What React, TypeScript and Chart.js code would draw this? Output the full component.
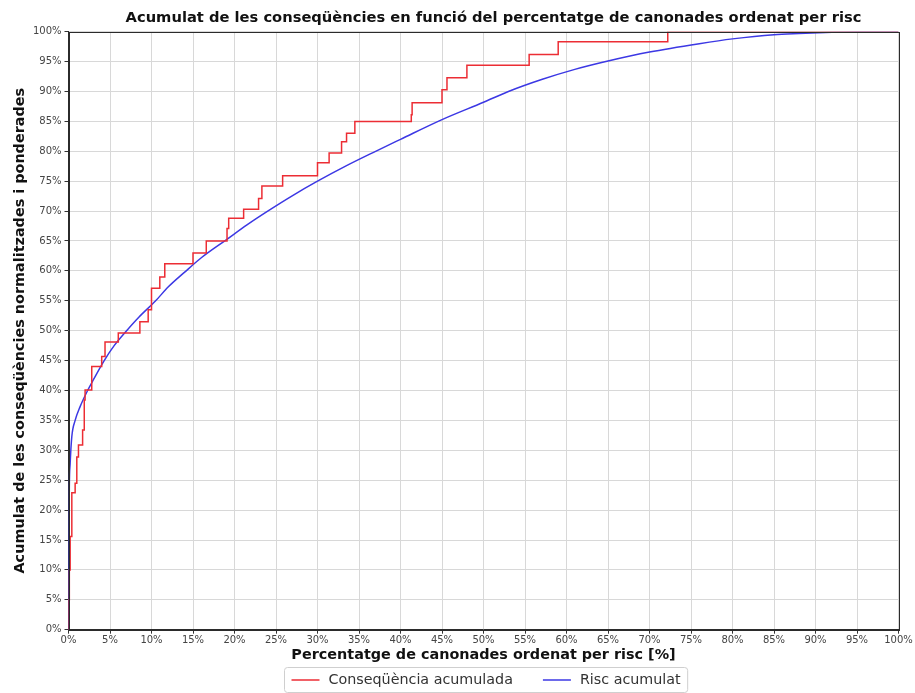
import React, { useEffect, useRef } from "react";
import { Chart, registerables } from "chart.js";

Chart.register(...registerables);

const TITLE = "Acumulat de les conseqüències en funció del percentatge de canonades ordenat per risc";
const X_TITLE = "Percentatge de canonades ordenat per risc [%]";
const Y_TITLE = "Acumulat de les conseqüències normalitzades i ponderades";
const SERIES_LABELS = ["Conseqüència acumulada", "Risc acumulat"];

// Red step curve: x where the step happens (%), cumulative value after the step (%)
const consX = [0, 0.05, 0.1, 0.2, 0.4, 0.8, 1.0, 1.2, 1.7, 1.9, 2.0, 2.8, 4.0, 4.4, 6.0, 8.6, 9.6, 10.0, 11.0, 11.6, 15.0, 16.6, 19.1, 19.3, 21.1, 22.9, 23.3, 25.8, 30.0, 31.4, 32.9, 33.5, 34.5, 41.3, 41.4, 45.0, 45.6, 48.0, 55.5, 59.0, 72.2, 100];
const consY = [0, 5, 10, 15.6, 22.9, 24.5, 28.9, 30.9, 33.4, 38.4, 40.1, 44.0, 45.7, 48.1, 49.6, 51.5, 53.5, 57.1, 59.0, 61.2, 63.0, 65.0, 67.1, 68.8, 70.3, 72.1, 74.2, 75.9, 78.1, 79.7, 81.6, 83.0, 85.0, 86.1, 88.1, 90.3, 92.3, 94.4, 96.2, 98.3, 100, 100];

// Blue smooth curve
const riskX = [0, 0.05, 0.1, 0.2, 0.4, 0.8, 1.4, 2.3, 3.0, 4.3, 5.5, 7.0, 8.5, 10.5, 12, 14, 16, 19, 21.5, 24, 27, 30, 33.5, 37, 40, 45, 50, 53, 57, 61, 65, 70, 76, 80, 85, 88, 92, 96, 100];
const riskY = [0, 15, 24, 27.8, 32.3, 35, 37.3, 40, 41.8, 45, 47.5, 50, 52.3, 55, 57.3, 59.8, 62.2, 65.2, 67.7, 70, 72.6, 75, 77.6, 80, 82, 85.3, 88.2, 90, 92, 93.7, 95.1, 96.6, 98.0, 98.8, 99.5, 99.7, 99.9, 100, 100];

const RED = "rgb(236, 45, 52)";
const BLUE = "rgb(60, 56, 228)";
const FONT = "'DejaVu Sans', sans-serif";

const framePlugin = {
  id: "frame",
  afterDatasetsDraw(chart: any) {
    const { ctx, chartArea: a } = chart;
    ctx.save();
    ctx.strokeStyle = "#2b2b2b";
    ctx.lineWidth = 1;
    ctx.strokeRect(Math.round(a.left) + 0.5, Math.round(a.top) + 0.5, Math.round(a.right - a.left), Math.round(a.bottom - a.top));
    ctx.restore();
  },
};

const titlePlugin = {
  id: "topTitle",
  afterDraw(chart: any) {
    const { ctx, chartArea: a } = chart;
    ctx.save();
    ctx.font = `bold 14.7px ${FONT}`;
    ctx.fillStyle = "#111";
    ctx.textAlign = "center";
    ctx.textBaseline = "middle";
    ctx.fillText(TITLE, (a.left + a.right) / 2 + 10, 18);
    ctx.restore();
  },
};

const legendPlugin = {
  id: "boxLegend",
  afterDraw(chart: any) {
    const { ctx, chartArea: a } = chart;
    const ds = chart.data.datasets;
    ctx.save();
    ctx.font = `14.3px ${FONT}`;
    const padX = 7, lineW = 28, gap = 9, itemGap = 30;
    const widths = ds.map((d: any) => ctx.measureText(d.label).width);
    let total = padX * 2;
    widths.forEach((w: number, i: number) => {
      total += lineW + gap + w + (i < widths.length - 1 ? itemGap : 0);
    });
    const cx = (a.left + a.right) / 2 + 2;
    const left = Math.round(cx - total / 2) + 0.5;
    const top = 667.5, h = 25, cy = 680;
    ctx.fillStyle = "#fff";
    ctx.strokeStyle = "#cfcfcf";
    ctx.lineWidth = 1;
    ctx.beginPath();
    (ctx as any).roundRect ? (ctx as any).roundRect(left, top, total, h, 3) : ctx.rect(left, top, total, h);
    ctx.fill();
    ctx.stroke();
    let x = left + padX;
    ds.forEach((d: any, i: number) => {
      ctx.strokeStyle = d.borderColor;
      ctx.lineWidth = 1.5;
      ctx.beginPath();
      ctx.moveTo(x, cy);
      ctx.lineTo(x + lineW, cy);
      ctx.stroke();
      x += lineW + gap;
      ctx.fillStyle = "#333";
      ctx.textBaseline = "middle";
      ctx.textAlign = "left";
      ctx.fillText(d.label, x, cy);
      x += widths[i] + itemGap;
    });
    ctx.restore();
  },
};

export default function App() {
  const ref = useRef<HTMLCanvasElement>(null);
  useEffect(() => {
    document.body.style.margin = "0";
    const canvas = ref.current!;
    const chart = new Chart(canvas, {
      type: "line",
      data: {
        datasets: [
          {
            label: SERIES_LABELS[0],
            data: consX.map((x, i) => ({ x, y: consY[i] })),
            borderColor: RED,
            backgroundColor: RED,
            borderWidth: 1.5,
            pointRadius: 0,
            stepped: "before",
            fill: false,
          },
          {
            label: SERIES_LABELS[1],
            data: riskX.map((x, i) => ({ x, y: riskY[i] })),
            borderColor: BLUE,
            backgroundColor: BLUE,
            borderWidth: 1.5,
            pointRadius: 0,
            cubicInterpolationMode: "monotone",
            fill: false,
          },
        ],
      },
      options: {
        responsive: false,
        animation: false,
        devicePixelRatio: 1,
        layout: { padding: { left: 12, right: 16.5, top: 31.7, bottom: 29.3 } },
        plugins: {
          legend: { display: false },
          tooltip: { enabled: false },
          title: { display: false },
        },
        scales: {
          x: {
            type: "linear",
            min: 0,
            max: 100,
            afterFit: (s: any) => { s.height = 34; },
            ticks: {
              stepSize: 5,
              autoSkip: false,
              maxRotation: 0,
              padding: 1,
              color: "#444",
              font: { family: FONT, size: 10 },
              callback: (v: any) => `${v}%`,
            },
            grid: { color: "#d8d8d8", tickLength: 4, tickColor: "#333", lineWidth: 1 },
            border: { display: true, color: "#2b2b2b" },
            title: {
              display: true,
              text: X_TITLE,
              color: "#111",
              font: { family: FONT, size: 14.4, weight: "bold" },
              padding: { top: 0, bottom: 0 },
            },
          },
          y: {
            type: "linear",
            min: 0,
            max: 100,
            afterFit: (s: any) => { s.width = 56.5; },
            ticks: {
              stepSize: 5,
              autoSkip: false,
              padding: 3,
              color: "#444",
              font: { family: FONT, size: 10 },
              callback: (v: any) => `${v}%`,
            },
            grid: { color: "#d8d8d8", tickLength: 4, tickColor: "#333", lineWidth: 1 },
            border: { display: true, color: "#2b2b2b" },
            title: {
              display: true,
              text: Y_TITLE,
              color: "#111",
              font: { family: FONT, size: 14.4, weight: "bold" },
              padding: { top: 0, bottom: 0 },
            },
          },
        },
      },
      plugins: [framePlugin, titlePlugin, legendPlugin],
    } as any);
    return () => chart.destroy();
  }, []);
  return (
    <div style={{ width: 915, height: 693 }}>
      <canvas ref={ref} width={915} height={693} style={{ display: "block" }} />
    </div>
  );
}
